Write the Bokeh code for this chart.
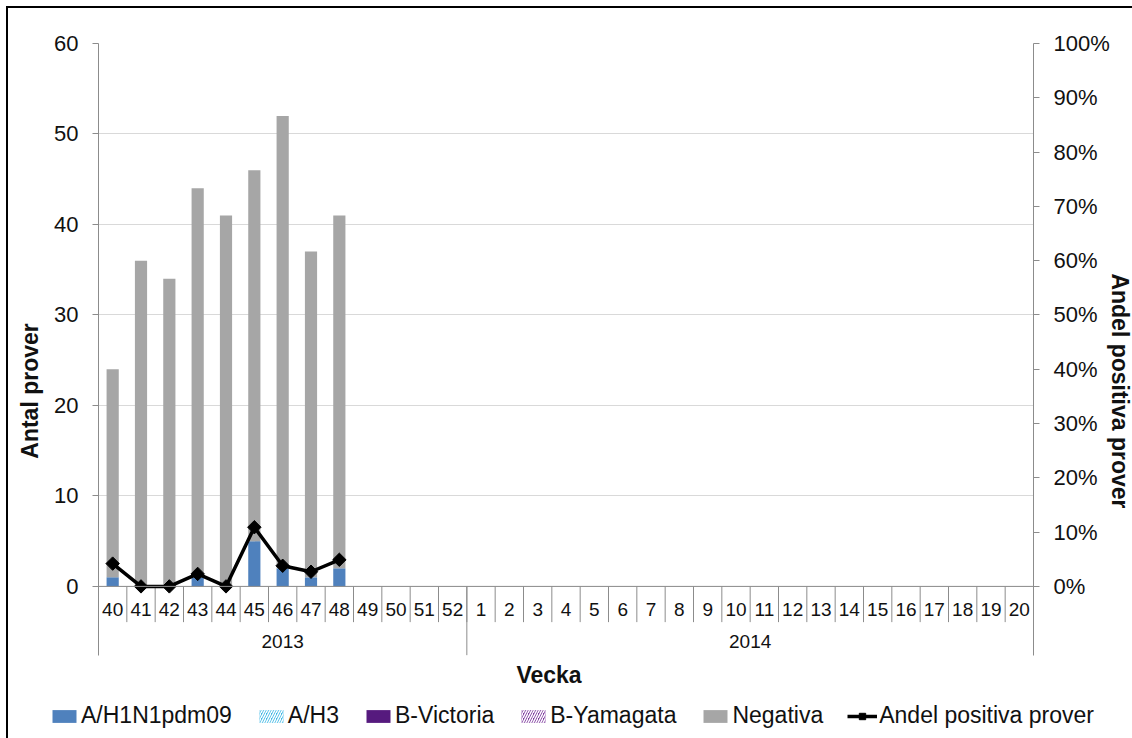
import math
from bokeh.plotting import figure
from bokeh.layouts import column
from bokeh.models import (Range1d, FactorRange, LinearAxis, FixedTicker, NumeralTickFormatter,
                          Span, Legend, LegendItem, ColumnDataSource)
from bokeh.core.properties import value
from bokeh.embed import file_html
from bokeh.resources import INLINE

# ---------------- data ----------------
weeks = ["40", "41", "42", "43", "44", "45", "46", "47", "48", "49", "50", "51", "52",
         "1", "2", "3", "4", "5", "6", "7", "8", "9", "10", "11", "12", "13", "14",
         "15", "16", "17", "18", "19", "20"]
year_labels = ["2013", "2014"]
year_week_counts = [13, 20]

data_weeks = ["40", "41", "42", "43", "44", "45", "46", "47", "48"]
a_h1n1 = [1, 0, 0, 1, 0, 5, 2, 1, 2]
a_h3 = [0, 0, 0, 0, 0, 0, 0, 0, 0]
b_victoria = [0, 0, 0, 0, 0, 0, 0, 0, 0]
b_yamagata = [0, 0, 0, 0, 0, 0, 0, 0, 0]
negativa = [23, 36, 34, 43, 41, 41, 50, 36, 39]
andel_pct = [4.2, 0.0, 0.0, 2.3, 0.0, 10.9, 3.8, 2.7, 4.9]

y_ticks = [0, 10, 20, 30, 40, 50, 60]
pct_ticks = [0, 0.1, 0.2, 0.3, 0.4, 0.5, 0.6, 0.7, 0.8, 0.9, 1.0]

series_names = ["A/H1N1pdm09", "A/H3", "B-Victoria", "B-Yamagata", "Negativa"]
series_colors = ["#4F81BD", "#3FB8E6", "#561A7E", "#7E3A9E", "#A6A6A6"]
series_hatch = [" ", "/", " ", "/", " "]
line_name = "Andel positiva prover"

# ---------------- style / layout ----------------
FONT = "Liberation Sans"
AXIS_GRAY = "#8C8C8C"
GRID_GRAY = "#D9D9D9"
TEXT = "#111111"
Y_MAX = 60
Y_FRAME_LOW = -16.81  # frame continues below zero: category labels and x title
Y_AXIS_LOW = -7.6     # where the axis / category lines stop
FRAME_W, FRAME_H = 935, 695
LEGEND_H = 46

p = figure(frame_width=FRAME_W, frame_height=FRAME_H, output_backend="svg",
           toolbar_location=None,
           x_range=FactorRange(factors=weeks, factor_padding=0, range_padding=0),
           y_range=Range1d(Y_FRAME_LOW, Y_MAX),
           x_axis_location=None, y_axis_location="left",
           min_border_left=90, min_border_right=99, min_border_top=35, min_border_bottom=0,
           outline_line_color=None)
p.extra_y_ranges = {"pct": Range1d(Y_FRAME_LOW / Y_MAX, 1.0)}

p.xgrid.visible = False
p.ygrid.ticker = FixedTicker(ticks=y_ticks)
p.ygrid.grid_line_color = GRID_GRAY


def style_axis(ax, label, standoff):
    ax.axis_label = label
    ax.axis_label_text_font = FONT
    ax.axis_label_text_font_size = "23px"
    ax.axis_label_text_font_style = "bold"
    ax.axis_label_text_color = TEXT
    ax.axis_label_standoff = standoff
    ax.major_label_text_font = FONT
    ax.major_label_text_font_size = "22px"
    ax.major_label_text_color = TEXT
    ax.major_label_standoff = 14
    ax.major_tick_out = 6
    ax.major_tick_in = 0
    ax.minor_tick_out = 0
    ax.minor_tick_in = 0
    ax.axis_line_color = AXIS_GRAY
    ax.major_tick_line_color = AXIS_GRAY


ya = p.yaxis[0]
ya.ticker = FixedTicker(ticks=y_ticks)
ya.bounds = (Y_AXIS_LOW, Y_MAX)
style_axis(ya, "Antal prover", 8)

ra = LinearAxis(y_range_name="pct", ticker=FixedTicker(ticks=pct_ticks),
                formatter=NumeralTickFormatter(format="0%"),
                bounds=(Y_AXIS_LOW / Y_MAX, 1.0))
style_axis(ra, line_name, -6)
p.add_layout(ra, "right")

# stacked bars
src = ColumnDataSource(dict(week=data_weeks, h1n1=a_h1n1, h3=a_h3, bvic=b_victoria,
                            byam=b_yamagata, neg=negativa))
bar_kw = dict(line_color=None, hatch_color="white", hatch_weight=1.5, hatch_scale=5)
p.vbar_stack(["h1n1", "h3", "bvic", "byam", "neg"], x="week", width=0.43, source=src,
             fill_color=series_colors, hatch_pattern=series_hatch, **bar_kw)

# zero line of the x axis
p.add_layout(Span(location=0, dimension="width", line_color=AXIS_GRAY, line_width=1))

# category separators and labels (two-level axis drawn below zero)
n = len(weeks)
sep_x = list(range(1, n))
p.segment(x0=sep_x, y0=[0] * len(sep_x), x1=sep_x, y1=[-3.95] * len(sep_x),
          line_color=AXIS_GRAY, line_width=1)
year_bounds = []
year_centers = []
acc = 0
for c in year_week_counts:
    year_centers.append(acc + c / 2)
    acc += c
    year_bounds.append(acc)
year_bounds = year_bounds[:-1]
p.segment(x0=year_bounds, y0=[0] * len(year_bounds), x1=year_bounds,
          y1=[Y_AXIS_LOW] * len(year_bounds), line_color=AXIS_GRAY, line_width=1)

p.text(x=weeks, y=[-2.5] * n, text=weeks, text_align="center", text_baseline="middle",
       text_font=value(FONT), text_font_size="19px", text_color=TEXT)
p.text(x=year_centers, y=[-6.1] * len(year_centers), text=year_labels, text_align="center",
       text_baseline="middle", text_font=value(FONT), text_font_size="19px", text_color=TEXT)

# x axis title
p.text(x=[15.9], y=[-9.8], text=["Vecka"], text_align="center", text_baseline="middle",
       text_font=value(FONT), text_font_size="23px", text_font_style="bold", text_color=TEXT)

# share positive line
andel = [v / 100 for v in andel_pct]
line_kw = dict(line_color="black", line_width=3.5)
mark_kw = dict(marker="square", angle=math.pi / 4, size=9.5, fill_color="black",
               line_color="black")
p.line(x=data_weeks, y=andel, y_range_name="pct", **line_kw)
p.scatter(x=data_weeks, y=andel, y_range_name="pct", **mark_kw)

# ---------------- legend strip (overlaps the bottom of the chart canvas) ----------------
lg = figure(frame_width=FRAME_W + 90 + 99, frame_height=LEGEND_H, output_backend="svg",
            toolbar_location=None, x_range=Range1d(0, 1), y_range=Range1d(0, 1),
            x_axis_location=None, y_axis_location=None,
            min_border_left=0, min_border_right=0, min_border_top=0, min_border_bottom=0,
            outline_line_color=None, background_fill_alpha=0, border_fill_alpha=0)
lg.grid.visible = False
lg.styles = {"margin-top": "-%dpx" % LEGEND_H}
# swatch-only renderers: one zero-height entry placed outside the visible range
items = []
for nm, col, hp in zip(series_names, series_colors, series_hatch):
    r = lg.vbar(x=[-5], top=[0], width=0.5, fill_color=col, hatch_pattern=hp, **bar_kw)
    items.append(LegendItem(label=nm, renderers=[r]))
r_ln = lg.line(x=[-5, -4], y=[-5, -5], **line_kw)
r_pt = lg.scatter(x=[-5], y=[-5], **mark_kw)
items.append(LegendItem(label=line_name, renderers=[r_ln, r_pt]))
legend = Legend(items=items, orientation="horizontal", location=(41, 9),
                glyph_width=30, glyph_height=16, label_standoff=2, spacing=24, label_height=24,
                label_text_font=FONT, label_text_font_size="23px", label_text_color=TEXT,
                border_line_color=None, background_fill_alpha=0, padding=2, margin=0)
lg.add_layout(legend)

layout = column(p, lg, spacing=0)
layout.styles = {"border-left": "2px solid black", "border-top": "2px solid black",
                 "margin-left": "6px", "margin-top": "6px"}

open("out.html", "w").write(file_html(layout, INLINE))
